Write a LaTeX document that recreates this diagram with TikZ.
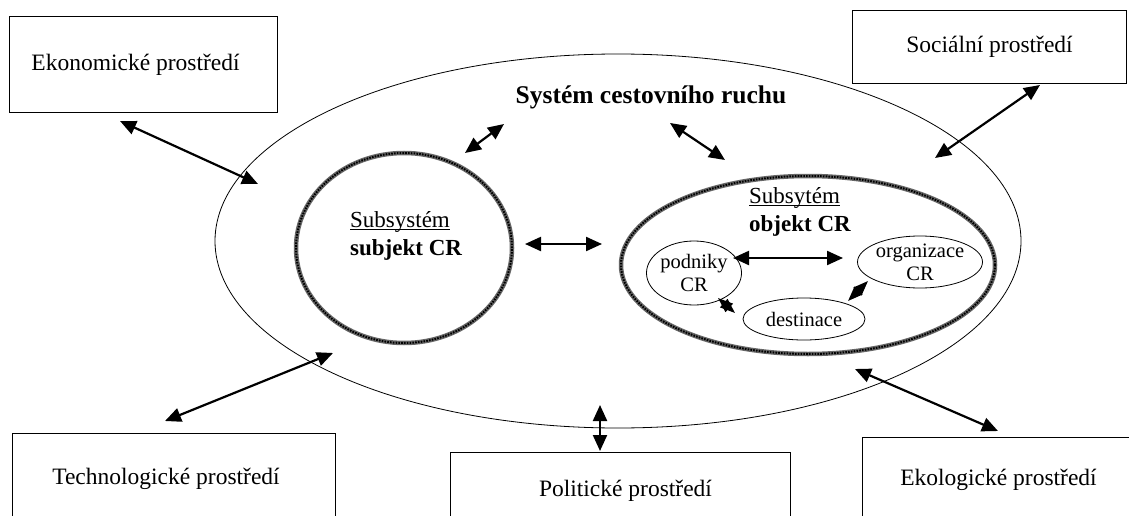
\documentclass[tikz,border=0pt]{standalone}
\usepackage{fontspec}
\setmainfont{Liberation Serif}
\usetikzlibrary{shapes.geometric,arrows.meta}
\newcommand\myul[1]{\setbox0\hbox{#1}\rlap{\rule[-2.6pt]{\wd0}{0.9pt}}\box0}
\begin{document}
\begin{tikzpicture}[x=1pt,y=-1pt,
  envbox/.style={draw, line width=1pt, inner sep=0pt, anchor=north west, font=\fontsize{23.5}{26}\selectfont},
  thinell/.style={draw, ellipse, line width=0.8pt, inner sep=0pt},
  thickring/.style={ellipse, inner sep=0pt, draw=black!60, line width=4.5pt,
     postaction={draw=black, line width=2pt, dash pattern=on 1.6pt off 1.2pt}},
  smallell/.style={draw, ellipse, line width=0.8pt, inner sep=0pt, align=center, font=\fontsize{20.5}{23}\selectfont},
  lbl/.style={inner sep=0pt, align=left, font=\fontsize{23}{28}\selectfont},
  dbl/.style={line width=2.2pt, {Triangle[length=16pt,width=14pt]}-{Triangle[length=16pt,width=14pt]}},
  sdbl/.style={line width=1.8pt, {Triangle[length=15pt,width=11pt]}-{Triangle[length=15pt,width=11pt]}}
]
\useasboundingbox (0,0) rectangle (1129,516);
\clip (0,0) rectangle (1129,516);

% environment boxes
\node[envbox, minimum width=268pt, minimum height=96pt] (eko) at (9,16) {\hspace*{-16pt}Ekonomické prostředí};
\node[envbox, minimum width=274pt, minimum height=73pt] (soc) at (852,10) {Sociální prostředí};
\node[envbox, minimum width=323pt, minimum height=90pt] (tec) at (12,433) {\hspace*{-16pt}Technologické prostředí};
\node[envbox, minimum width=340pt, minimum height=76pt] (pol) at (450,452) {Politické prostředí\hspace*{-10pt}};
\node[envbox, minimum width=272pt, minimum height=84pt] (ekol) at (862,437) {Ekologické prostředí};

% main system ellipse
\node[thinell, minimum width=806pt, minimum height=374pt] (sys) at (618,241) {};
\node[inner sep=0pt, font=\fontsize{25.5}{28}\selectfont\bfseries] (title) at (651,97) {Systém cestovního ruchu};

% subsystems
\node[thickring, minimum width=216pt, minimum height=190pt] (subj) at (404,248) {};
\node[lbl, anchor=west] (subjtxt) at (350,236) {\myul{Subsystém}\\\textbf{subjekt CR}};
\node[thickring, minimum width=374pt, minimum height=178pt] (obj) at (808,265) {};
\node[lbl, anchor=west] (objtxt) at (749,212) {\myul{Subsytém}\\\textbf{objekt CR}};

% inner elements
\node[smallell, minimum width=92pt, minimum height=64pt] (pod) at (694,273) {podniky\\CR};
\node[smallell, minimum width=114pt, minimum height=46pt] (org) at (920,262) {organizace\\CR};
\node[smallell, minimum width=122pt, minimum height=42pt] (dest) at (804,319) {destinace};

% arrow end coordinates
\coordinate (ekoA) at (120,121);  \coordinate (ekoB) at (258,184);
\coordinate (socA) at (1040,85);  \coordinate (socB) at (935,158);
\coordinate (tecA) at (333,353);  \coordinate (tecB) at (165,421);
\coordinate (polA) at (600,405);  \coordinate (polB) at (600,451);
\coordinate (ekolA) at (855,369); \coordinate (ekolB) at (998,431);
\coordinate (tlA) at (465,153);   \coordinate (tlB) at (504,124);
\coordinate (trA) at (670,123);   \coordinate (trB) at (725,160);
\coordinate (soA) at (525,244);   \coordinate (soB) at (602,244);
\coordinate (poA) at (733,258);   \coordinate (poB) at (843,258);
\coordinate (pdA) at (735,313);   \coordinate (pdB) at (718,298);
\coordinate (doA) at (848,301);   \coordinate (doB) at (868,281);

\draw[dbl] (ekoA) -- (ekoB);
\draw[dbl] (socA) -- (socB);
\draw[dbl] (tecA) -- (tecB);
\draw[dbl] (polA) -- (polB);
\draw[dbl] (ekolA) -- (ekolB);
\draw[dbl] (tlA) -- (tlB);
\draw[dbl] (trA) -- (trB);
\draw[dbl] (soA) -- (soB);
\draw[dbl] (poA) -- (poB);
\draw[sdbl] (pdA) -- (pdB);
\draw[sdbl] (doA) -- (doB);
\end{tikzpicture}
\end{document}
